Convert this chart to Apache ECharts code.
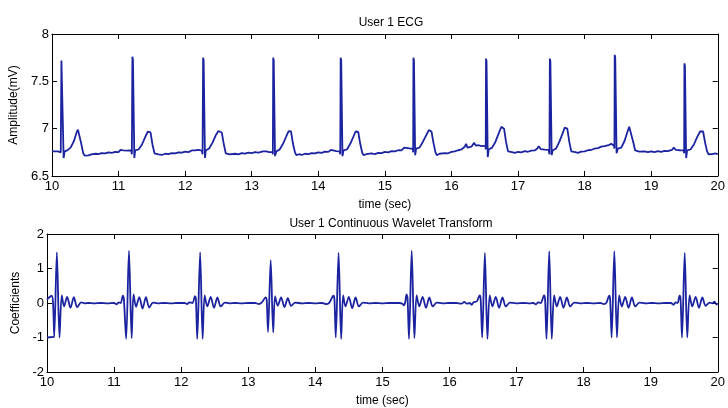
<!DOCTYPE html>
<html>
<head>
<meta charset="utf-8">
<script src="https://cdn.jsdelivr.net/npm/echarts@6/dist/echarts.min.js"></script>
<style>html,body{margin:0;padding:0;background:#fff}#c{width:728px;height:408px}</style>
</head>
<body>
<div id="c"></div>
<script>
// ---- data ----
const xTickValues = [10, 11, 12, 13, 14, 15, 16, 17, 18, 19, 20];
const ecgYTicks = [6.5, 7, 7.5, 8];
const cwtYTicks = [-2, -1, 0, 1, 2];

// ECG amplitude (mV) vs time (sec)
const ecgPoints = [
[10.00,6.76],[10.02,6.75],[10.04,6.76],[10.06,6.752],[10.09,6.76],[10.11,6.74],[10.132,6.75],[10.142,7.72],[10.150,7.70],[10.175,6.69],[10.19,6.76],[10.23,6.77],[10.28,6.80],[10.33,6.87],[10.37,6.96],[10.39,6.99],[10.41,6.97],[10.44,6.84],[10.47,6.74],[10.49,6.715],[10.52,6.725],[10.55,6.718],[10.59,6.728],[10.62,6.722],[10.66,6.735],[10.70,6.73],[10.74,6.742],[10.80,6.738],[10.85,6.75],[10.90,6.745],[10.95,6.755],[11.00,6.752],[11.03,6.775],[11.05,6.79],[11.07,6.77],[11.10,6.775],[11.14,6.768],[11.19,6.772],[11.20,6.73],[11.208,7.76],[11.216,7.73],[11.237,6.69],[11.25,6.77],[11.30,6.78],[11.35,6.83],[11.40,6.91],[11.44,6.97],[11.46,6.985],[11.48,6.96],[11.51,6.83],[11.54,6.74],[11.56,6.72],[11.60,6.728],[11.65,6.722],[11.70,6.735],[11.75,6.73],[11.80,6.742],[11.85,6.738],[11.90,6.75],[11.95,6.746],
[12.00,6.758],[12.05,6.752],[12.10,6.77],[12.12,6.785],[12.15,6.77],[12.20,6.775],[12.25,6.768],[12.262,6.73],[12.270,7.75],[12.278,7.72],[12.298,6.69],[12.31,6.77],[12.36,6.79],[12.41,6.85],[12.46,6.93],[12.50,6.975],[12.53,6.985],[12.55,6.96],[12.58,6.84],[12.61,6.74],[12.63,6.72],[12.67,6.728],[12.70,6.72],[12.75,6.735],[12.80,6.728],[12.85,6.742],[12.90,6.737],[12.95,6.748],[13.00,6.742],[13.05,6.752],[13.10,6.748],[13.17,6.76],[13.19,6.775],[13.22,6.76],[13.26,6.752],[13.31,6.755],[13.318,6.73],[13.323,7.75],[13.331,7.72],[13.35,6.71],[13.37,6.76],[13.42,6.78],[13.47,6.84],[13.52,6.92],[13.555,6.975],[13.574,6.99],[13.59,6.97],[13.62,6.84],[13.65,6.75],[13.67,6.72],[13.71,6.73],[13.75,6.722],[13.80,6.735],[13.85,6.73],[13.90,6.742],[13.95,6.738],
[14.00,6.75],[14.05,6.745],[14.10,6.758],[14.15,6.755],[14.19,6.775],[14.22,6.765],[14.27,6.762],[14.32,6.76],[14.33,6.73],[14.336,7.75],[14.344,7.72],[14.363,6.71],[14.38,6.77],[14.43,6.78],[14.48,6.84],[14.53,6.92],[14.56,6.97],[14.58,6.985],[14.60,6.965],[14.63,6.84],[14.66,6.745],[14.68,6.72],[14.72,6.73],[14.75,6.725],[14.80,6.738],[14.85,6.732],[14.90,6.745],[14.95,6.742],[15.00,6.755],[15.05,6.75],[15.10,6.762],[15.15,6.76],[15.20,6.772],[15.25,6.77],[15.29,6.80],[15.32,6.785],[15.37,6.792],[15.42,6.788],[15.425,6.75],[15.429,7.75],[15.437,7.72],[15.455,6.72],[15.47,6.79],[15.52,6.80],[15.57,6.86],[15.62,6.93],[15.66,6.985],[15.68,6.99],[15.70,6.97],[15.73,6.85],[15.76,6.75],[15.78,6.72],[15.82,6.735],[15.85,6.728],[15.90,6.742],[15.95,6.74],
[16.00,6.755],[16.05,6.76],[16.10,6.772],[16.15,6.78],[16.20,6.81],[16.22,6.84],[16.24,6.80],[16.27,6.815],[16.30,6.81],[16.34,6.85],[16.37,6.82],[16.41,6.825],[16.45,6.815],[16.51,6.82],[16.515,6.78],[16.519,7.74],[16.527,7.71],[16.545,6.70],[16.56,6.78],[16.61,6.80],[16.66,6.86],[16.71,6.95],[16.75,7.02],[16.77,7.03],[16.79,7.00],[16.82,6.86],[16.85,6.76],[16.87,6.74],[16.91,6.752],[16.95,6.745],[17.00,6.755],[17.05,6.75],[17.10,6.762],[17.15,6.756],[17.20,6.768],[17.25,6.77],[17.29,6.79],[17.31,6.815],[17.34,6.785],[17.40,6.778],[17.46,6.775],[17.472,6.73],[17.478,7.74],[17.486,7.71],[17.505,6.72],[17.52,6.77],[17.57,6.79],[17.62,6.86],[17.67,6.95],[17.70,7.01],[17.72,7.03],[17.74,7.00],[17.77,6.86],[17.80,6.76],[17.82,6.74],[17.86,6.752],[17.90,6.745],[17.95,6.758],
[18.00,6.76],[18.05,6.772],[18.10,6.775],[18.15,6.79],[18.20,6.795],[18.25,6.81],[18.30,6.815],[18.33,6.83],[18.36,6.825],[18.40,6.84],[18.44,6.82],[18.448,6.79],[18.452,7.78],[18.460,7.75],[18.48,6.74],[18.50,6.79],[18.55,6.80],[18.60,6.87],[18.64,6.96],[18.67,7.02],[18.68,7.03],[18.70,7.00],[18.73,6.86],[18.76,6.77],[18.78,6.75],[18.82,6.758],[18.85,6.75],[18.90,6.76],[18.95,6.752],[19.00,6.76],[19.05,6.753],[19.10,6.762],[19.15,6.756],[19.20,6.766],[19.25,6.762],[19.31,6.775],[19.34,6.80],[19.37,6.775],[19.43,6.772],[19.49,6.77],[19.495,6.74],[19.499,7.69],[19.507,7.66],[19.525,6.69],[19.54,6.77],[19.59,6.78],[19.64,6.83],[19.69,6.91],[19.735,6.97],[19.76,6.99],[19.78,6.97],[19.81,6.85],[19.84,6.76],[19.86,6.73],[19.89,6.74],[19.92,6.732],[19.96,6.738],[20.00,6.73]
];

// CWT coefficients vs time (sec)
const cwtPoints = [
[10.00,0.10],[10.03,0.16],[10.07,0.21],[10.09,0.0],[10.108,-0.98],[10.147,1.47],[10.186,-1.0],[10.22,0.22],[10.255,-0.10],[10.30,0.18],[10.35,-0.14],[10.40,0.17],[10.45,-0.12],[10.51,0.02],[10.56,-0.01],[10.62,0.0],[10.70,-0.01],[10.80,0.0],[10.90,-0.01],[11.00,0.0],
[11.04,-0.04],[11.07,0.02],[11.10,0.0],[11.13,0.21],[11.145,0.15],[11.18,-1.04],[11.222,1.52],[11.262,-1.02],[11.29,0.25],[11.327,-0.11],[11.376,0.17],[11.425,-0.16],[11.475,0.17],[11.524,-0.13],[11.58,0.01],[11.65,-0.01],[11.75,0.0],[11.85,-0.01],[11.95,0.0],
[12.05,0.0],[12.09,-0.03],[12.12,0.02],[12.17,0.0],[12.205,0.20],[12.22,0.12],[12.24,-1.04],[12.283,1.47],[12.32,-1.04],[12.35,0.22],[12.39,-0.10],[12.44,0.18],[12.49,-0.14],[12.54,0.16],[12.59,-0.10],[12.65,0.01],[12.72,-0.01],[12.80,0.0],[12.90,-0.01],[13.00,0.0],[13.10,0.0],
[13.16,-0.03],[13.20,0.01],[13.26,0.16],[13.275,0.10],[13.295,-0.84],[13.335,1.24],[13.372,-0.85],[13.40,0.20],[13.44,-0.08],[13.49,0.16],[13.54,-0.12],[13.59,0.14],[13.64,-0.08],[13.70,0.01],[13.80,-0.01],[13.90,0.0],[14.00,-0.01],[14.10,0.0],
[14.17,-0.03],[14.21,0.01],[14.27,0.21],[14.285,0.12],[14.305,-1.0],[14.347,1.46],[14.385,-1.04],[14.415,0.22],[14.45,-0.10],[14.50,0.18],[14.55,-0.15],[14.60,0.16],[14.65,-0.10],[14.71,0.01],[14.80,-0.01],[14.90,0.0],[15.00,-0.01],[15.10,0.0],[15.20,0.0],
[15.25,0.0],[15.30,-0.02],[15.32,-0.07],[15.34,0.02],[15.36,0.25],[15.375,0.15],[15.397,-1.04],[15.437,1.52],[15.477,-1.02],[15.51,0.22],[15.55,-0.10],[15.60,0.18],[15.65,-0.14],[15.70,0.16],[15.75,-0.10],[15.81,0.01],[15.90,-0.01],[16.00,0.0],
[16.10,0.0],[16.18,-0.02],[16.22,0.03],[16.26,-0.02],[16.30,0.0],[16.33,-0.05],[16.36,0.02],[16.41,0.05],[16.45,0.22],[16.465,0.12],[16.488,-1.0],[16.528,1.45],[16.566,-1.04],[16.60,0.22],[16.64,-0.10],[16.69,0.18],[16.74,-0.14],[16.79,0.16],[16.84,-0.10],[16.90,0.01],[17.00,-0.01],[17.10,0.0],[17.20,-0.01],
[17.25,0.0],[17.29,-0.04],[17.32,0.02],[17.36,0.0],[17.41,0.22],[17.425,0.12],[17.447,-1.04],[17.487,1.50],[17.525,-1.04],[17.56,0.22],[17.60,-0.10],[17.65,0.18],[17.70,-0.14],[17.75,0.16],[17.80,-0.10],[17.86,0.01],[17.95,-0.01],[18.05,0.0],[18.15,-0.01],
[18.25,0.0],[18.30,-0.03],[18.34,0.01],[18.38,0.21],[18.395,0.12],[18.418,-1.0],[18.458,1.50],[18.497,-1.0],[18.53,0.22],[18.57,-0.10],[18.62,0.18],[18.67,-0.14],[18.72,0.16],[18.77,-0.10],[18.83,0.01],[18.92,-0.01],[19.02,0.0],[19.12,-0.01],[19.22,0.0],
[19.30,0.0],[19.34,-0.05],[19.37,0.02],[19.40,0.0],[19.43,0.21],[19.445,0.12],[19.467,-1.0],[19.507,1.45],[19.545,-1.0],[19.58,0.22],[19.62,-0.10],[19.67,0.18],[19.72,-0.14],[19.77,0.16],[19.82,-0.08],[19.88,0.01],[19.92,-0.01],[19.95,0.04],[19.98,-0.04],[20.00,-0.03]
];
// flat edge segment of the transform at the left border
const cwtEdge = [[10.00,-1.0],[10.108,-0.98]];

const titles = ['User 1 ECG', 'User 1 Continuous Wavelet Transform'];
const yNames = ['Amplitude(mV)', 'Coefficients'];
const xName = 'time (sec)';

// ---- chart ----
const FONT = 'Liberation Sans, Arial, sans-serif';
const LINE = '#1c23a0';
const chart = echarts.init(document.getElementById('c'), null, {renderer: 'canvas'});

function xAx(gi, pos, labels) {
  return {
    gridIndex: gi, type: 'value', position: pos, min: 10, max: 20, interval: 1,
    name: labels ? xName : '', nameLocation: 'middle', nameGap: 23,
    nameTextStyle: {color: '#000', fontFamily: FONT, fontSize: 12},
    axisLine: {show: true, onZero: false, lineStyle: {color: '#000', width: 1}},
    axisTick: {show: true, inside: true, length: 5, lineStyle: {color: '#000'}},
    axisLabel: {show: labels, color: '#000', fontFamily: FONT, fontSize: 13, margin: 4},
    splitLine: {show: false}
  };
}
function yAx(gi, pos, labels, min, max, interval, name, gap) {
  return {
    gridIndex: gi, type: 'value', position: pos, min: min, max: max, interval: interval,
    name: labels ? name : '', nameLocation: 'middle', nameGap: gap, nameRotate: 90,
    nameTextStyle: {color: '#000', fontFamily: FONT, fontSize: 12},
    axisLine: {show: true, onZero: false, lineStyle: {color: '#000', width: 1}},
    axisTick: {show: true, inside: true, length: 5, lineStyle: {color: '#000'}},
    axisLabel: {show: labels, color: '#000', fontFamily: FONT, fontSize: 13, margin: 3},
    splitLine: {show: false}
  };
}

chart.setOption({
  animation: false,
  backgroundColor: '#fff',
  title: [
    {text: titles[0], left: 386, top: 12, textAlign: 'center',
     textStyle: {fontFamily: FONT, fontSize: 12, fontWeight: 'normal', color: '#000'}},
    {text: titles[1], left: 386, top: 213, textAlign: 'center',
     textStyle: {fontFamily: FONT, fontSize: 12, fontWeight: 'normal', color: '#000'}}
  ],
  grid: [
    {left: 47, top: 34, width: 678, height: 142},
    {left: 47, top: 234, width: 678, height: 143}
  ],
  xAxis: [xAx(0, 'bottom', true), xAx(0, 'top', false), xAx(1, 'bottom', true), xAx(1, 'top', false)],
  yAxis: [
    yAx(0, 'left', true, 6.5, 8, 0.5, yNames[0], 28),
    yAx(0, 'right', false, 6.5, 8, 0.5, '', 0),
    yAx(1, 'left', true, -2, 2, 1, yNames[1], 21),
    yAx(1, 'right', false, -2, 2, 1, '', 0)
  ],
  series: [
    {type: 'line', xAxisIndex: 0, yAxisIndex: 0, data: ecgPoints, showSymbol: false,
     lineStyle: {color: LINE, width: 1.8}, silent: true},
    {type: 'line', xAxisIndex: 2, yAxisIndex: 2, data: cwtPoints, showSymbol: false, smooth: 0.3,
     lineStyle: {color: LINE, width: 1.8}, silent: true},
    {type: 'line', xAxisIndex: 2, yAxisIndex: 2, data: cwtEdge, showSymbol: false,
     lineStyle: {color: LINE, width: 1.8}, silent: true}
  ]
});
</script>
</body>
</html>
